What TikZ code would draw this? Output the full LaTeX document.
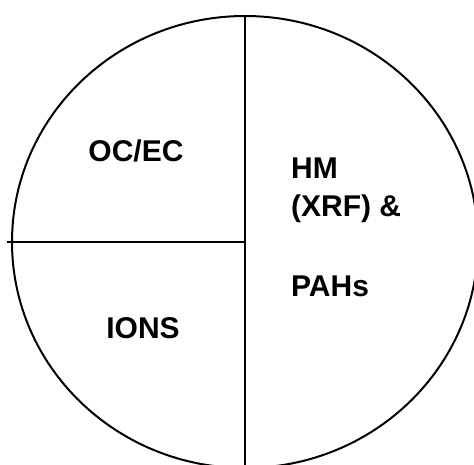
\documentclass[tikz,border=0pt]{standalone}
\usepackage{fontspec}
\setmainfont{Liberation Sans}
\usetikzlibrary{shapes.geometric}
\tikzset{
  rim/.style={draw, ellipse, line width=2pt, inner sep=0pt,
    minimum width=466pt, minimum height=452pt},
  divider/.style={line width=2pt},
  label/.style={font=\fontsize{30}{36}\selectfont\bfseries, inner sep=0pt}
}
\begin{document}
\begin{tikzpicture}[x=1pt,y=-1pt]
\useasboundingbox (0,0) rectangle (474,464);
\begin{scope}
\clip (0,0) rectangle (474,464);
% outline of the chart
\node[rim] (pie) at (245,242) {};
% dividing lines
\coordinate (lefttip) at (7,242);
\draw[divider] (pie.north) -- (pie.south);
\draw[divider] (lefttip) -- (pie.center);
\end{scope}
% sector labels
\node[label] (ocec) at (136,151) {OC/EC};
\node[label] (ions) at (143,328) {IONS};
\node[label, anchor=base west] (hm) at (291,178) {HM};
\node[label, anchor=base west] (xrf) at (291,216) {(XRF) \&};
\node[label, anchor=base west] (pahs) at (291,296) {PAHs};
\end{tikzpicture}
\end{document}
